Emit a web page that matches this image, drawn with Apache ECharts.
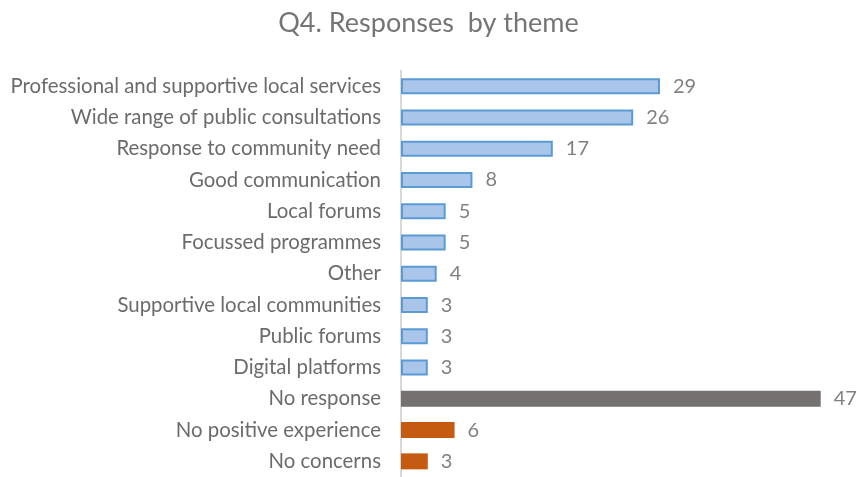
<!DOCTYPE html>
<html>
<head>
<meta charset="utf-8">
<script src="https://cdn.jsdelivr.net/npm/echarts@6/dist/echarts.min.js"></script>
<style>
  html, body { margin: 0; padding: 0; background: #ffffff; }
  #chart { width: 857px; height: 477px; }
</style>
</head>
<body>
<div id="chart"></div>
<script>
// Response themes, listed top to bottom
const categories = [
  'Professional and supportive local services',
  'Wide range of public consultations',
  'Response to community need',
  'Good communication',
  'Local forums',
  'Focussed programmes',
  'Other',
  'Supportive local communities',
  'Public forums',
  'Digital platforms',
  'No response',
  'No positive experience',
  'No concerns'
];

// Number of responses per theme
const counts = [29, 26, 17, 8, 5, 5, 4, 3, 3, 3, 47, 6, 3];

// Kind of theme: positive feedback, no answer, or negative
const kinds = ['positive', 'positive', 'positive', 'positive', 'positive', 'positive',
  'positive', 'positive', 'positive', 'positive', 'none', 'negative', 'negative'];

const kindStyle = {
  positive: { color: '#a9c5ea', borderColor: '#5b9bd5', borderWidth: 2 },
  none: { color: '#767171', borderWidth: 0 },
  negative: { color: '#c55a11', borderWidth: 0 }
};

const FONT = 'Lato';

const chart = echarts.init(document.getElementById('chart'), null, { renderer: 'canvas' });

chart.setOption({
  animation: false,
  backgroundColor: '#ffffff',
  title: {
    text: 'Q4. Responses  by theme',
    left: 'center',
    top: 5,
    textStyle: { fontFamily: FONT, fontSize: 27, fontWeight: 'normal', color: '#757575' }
  },
  grid: { left: 401, right: 9.5, top: 70.6, height: 412.8, containLabel: false },
  xAxis: {
    type: 'value',
    min: 0,
    max: 50,
    show: false
  },
  yAxis: {
    type: 'category',
    inverse: true,
    data: categories,
    axisLine: { show: true, lineStyle: { color: '#d9d9d9', width: 2 } },
    axisTick: { show: false },
    axisLabel: { margin: 20, fontFamily: FONT, fontSize: 20.4, color: '#6b6b6b' }
  },
  series: [{
    type: 'bar',
    barWidth: 16,
    data: counts.map((v, i) => ({ value: v, itemStyle: kindStyle[kinds[i]] })),
    label: {
      show: true,
      position: 'right',
      distance: 13,
      fontFamily: FONT,
      fontSize: 20,
      color: '#808080'
    }
  }]
});
</script>
</body>
</html>
